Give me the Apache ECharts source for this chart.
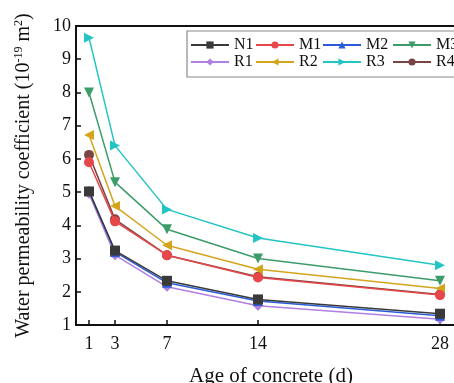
<!DOCTYPE html>
<html><head><meta charset="utf-8">
<script src="https://cdn.jsdelivr.net/npm/echarts@6/dist/echarts.min.js"></script>
<style>html,body{margin:0;padding:0;background:#fff}#c{width:454px;height:383px}</style>
</head><body><div id="c"></div>
<script>
const ages = [1, 3, 7, 14, 28];
const xTicks = [1, 3, 7, 14, 28];
const yTicks = [1, 2, 3, 4, 5, 6, 7, 8, 9, 10];
const N1 = [5.02, 3.24, 2.33, 1.77, 1.34];
const M1 = [5.90, 4.12, 3.10, 2.43, 1.90];
const M2 = [5.04, 3.20, 2.27, 1.72, 1.28];
const M3 = [8.00, 5.30, 3.88, 3.00, 2.33];
const R1 = [4.95, 3.10, 2.15, 1.58, 1.17];
const R2 = [6.72, 4.58, 3.40, 2.68, 2.10];
const R3 = [9.65, 6.40, 4.48, 3.62, 2.80];
const R4 = [6.12, 4.18, 3.10, 2.45, 1.92];
const names = ['N1','M1','M2','M3','R1','R2','R3','R4'];
const values = [N1, M1, M2, M3, R1, R2, R3, R4];

const colors = ['#3a3a3a','#e8474a','#2b5cd8','#3c9c6a','#b07fe0','#d4a51c','#22c4c4','#7a4545'];
const symbols = ['rect','circle','triangle','triangle','diamond','triangle','triangle','circle'];
const rotates = [0,0,0,180,0,90,-90,0];
const font = '"Liberation Serif","Times New Roman",serif';

const series = names.map((n, i) => ({
  name: n, type: 'line',
  data: ages.map((a, j) => [a, values[i][j]]),
  symbol: symbols[i], symbolRotate: rotates[i], symbolSize: 10,
  lineStyle: { color: colors[i], width: 1.5 },
  itemStyle: { color: colors[i] },
  z: 10 - i
}));

const colLeft = [190, 255, 322, 392];
const legends = names.map((n, i) => ({
  data: [n], left: colLeft[i % 4], top: i < 4 ? 37 : 54, padding: 0,
  itemWidth: 38, itemHeight: 9, itemGap: 0,
  textStyle: { fontFamily: font, fontSize: 16, color: '#111', padding: [0,0,0,0] },
  selectedMode: false
}));

const chart = echarts.init(document.getElementById('c'));
chart.setOption({
  animation: false,
  grid: { left: 76, top: 26, width: 390, height: 299, outerBoundsMode: 'none', containLabel: false, show: true, borderColor: '#111', borderWidth: 2, backgroundColor: 'transparent' },
  legend: legends,
  graphic: [{ type: 'rect', shape: { x: 187, y: 31, width: 300, height: 46 }, style: { fill: 'none', stroke: '#8a8a8a', lineWidth: 1.2 }, z: 100 }],
  xAxis: {
    type: 'value', min: 0, max: 30,
    name: 'Age of concrete (d)', nameLocation: 'middle', nameGap: 41,
    nameTextStyle: { fontFamily: font, fontSize: 21, color: '#111' },
    axisLine: { show: true, lineStyle: { color: '#111', width: 2 } },
    axisTick: { show: true, inside: true, length: 5, customValues: xTicks, lineStyle: { color: '#111', width: 1.5 } },
    axisLabel: { customValues: xTicks, fontFamily: font, fontSize: 18, color: '#111', margin: 10 },
    splitLine: { show: false }
  },
  yAxis: {
    type: 'value', min: 1, max: 10, interval: 1,
    name: 'Water permeability coefficient (10{sup|-19} m{sup|2})',
    nameLocation: 'middle', nameGap: 41,
    nameTextStyle: { fontFamily: font, fontSize: 20, color: '#111',
      rich: { sup: { fontFamily: font, fontSize: 12, verticalAlign: 'top', padding: [0,0,10,0], color: '#111' } } },
    axisLine: { show: true, lineStyle: { color: '#111', width: 2 } },
    axisTick: { show: true, inside: true, length: 5, lineStyle: { color: '#111', width: 1.5 } },
    axisLabel: { fontFamily: font, fontSize: 18, color: '#111', margin: 5 },
    splitLine: { show: false }
  },
  series: series
});
</script></body></html>
